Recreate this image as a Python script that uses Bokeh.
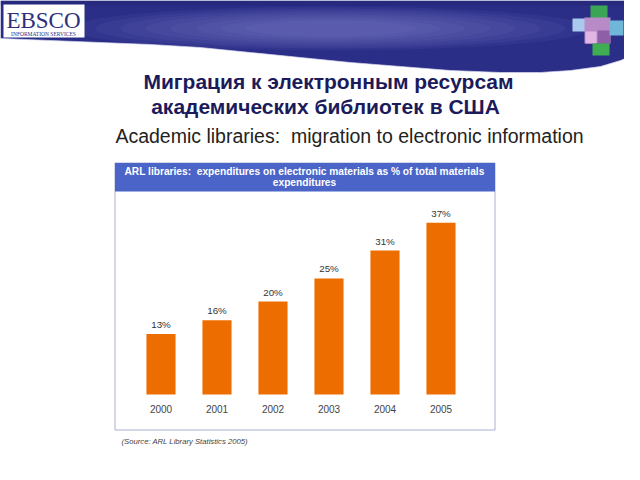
from bokeh.plotting import figure
from bokeh.models import Range1d
from bokeh.core.properties import value
from bokeh.embed import file_html
from bokeh.resources import INLINE

# ---- data ----
years = [2000, 2001, 2002, 2003, 2004, 2005]
shares = [13, 16, 20, 25, 31, 37]
share_labels = ["13%", "16%", "20%", "25%", "31%", "37%"]
year_labels = ["2000", "2001", "2002", "2003", "2004", "2005"]

title_ru_1 = "Миграция к электронным ресурсам"
title_ru_2 = "академических библиотек в США"
subtitle_en = "Academic libraries:\u00a0 migration to electronic information"
chart_head_1 = "ARL libraries:\u00a0 expenditures on electronic materials as % of total materials"
chart_head_2 = "expenditures"
source_text = "(Source: ARL Library Statistics 2005)"

FONT = value("Liberation Sans")
W, H = 624, 464

# picture coordinate system (pixels), y downward
p = figure(width=W, height=H, x_range=Range1d(0, W), y_range=Range1d(H, 0),
           output_backend="svg", toolbar_location=None,
           x_axis_location=None, y_axis_location=None, min_border=0,
           background_fill_color="white", border_fill_color="white")
p.grid.visible = False
p.outline_line_color = None

# scales for the bar chart (year -> x pixel, percent -> y pixel)
x0_px, step_px = 160.5, 56.0
base_px, px_per_pct = 394.0, 4.645
p.extra_x_ranges = {"yr": Range1d(start=2000 + (0 - x0_px) / step_px,
                                  end=2000 + (W - x0_px) / step_px)}
p.extra_y_ranges = {"pct": Range1d(start=(base_px - H) / px_per_pct,
                                   end=(base_px - 0) / px_per_pct)}

# ---- header band (decoration) ----
edge_x = [0, 50, 100, 150, 200, 250, 300, 350, 400, 450, 500, 540, 570, 600, 620, 640]
edge_y = [38, 40, 42, 44, 47, 52, 57, 62, 66, 70, 72, 72, 70, 66, 60, 52]
p.patch(x=[0] + edge_x + [640], y=[0] + edge_y + [0], fill_color="#2b2e87", line_color=None)
glow_w = [520, 470, 420, 370, 320, 270, 220, 170]
glow_h = [44, 40, 36, 32, 28, 24, 20, 16]
p.ellipse(x=[330] * len(glow_w), y=[28] * len(glow_w), width=glow_w, height=glow_h,
          fill_color="#9a9cdc", fill_alpha=0.07, line_color=None)
p.patch(x=[0, 640, 640, 0], y=[0, 0, 5, 5], fill_color="#22246f", fill_alpha=0.4, line_color=None)
p.line(x=edge_x, y=edge_y, line_color="#d8d8f0", line_width=1, line_alpha=0.7)

# EBSCO logo
p.quad(left=3, right=84, top=4, bottom=37, fill_color="white", line_color=None)
p.text(x=[43], y=[20], text=["EBSCO"], text_font=value("Liberation Serif"), text_font_size="23px",
       text_color="#2d2f7c", text_align="center", text_baseline="middle")
p.text(x=[43], y=[33], text=["INFORMATION SERVICES"], text_font=value("Liberation Serif"),
       text_font_size="5.5px", text_color="#2d2f7c", text_align="center", text_baseline="middle")

# cube icon
cx = -8
p.quad(left=[598 + cx], right=[615 + cx], top=[5], bottom=[19], fill_color="#3aa655", line_color=None)
p.quad(left=[580 + cx], right=[594 + cx], top=[18], bottom=[31], fill_color="#a9c9ee", line_color=None)
p.quad(left=[592 + cx], right=[618 + cx], top=[17], bottom=[43], fill_color="#b98ac8", line_color=None)
p.quad(left=[593 + cx], right=[604 + cx], top=[31], bottom=[43], fill_color="#e2b6e4", line_color=None)
p.quad(left=[605 + cx], right=[618 + cx], top=[30], bottom=[43], fill_color="#8e5fa6", line_color=None)
p.quad(left=[617 + cx], right=[631 + cx], top=[20], bottom=[35], fill_color="#6fb6d8", line_color=None)
p.quad(left=[600 + cx], right=[617 + cx], top=[43], bottom=[55], fill_color="#3fae52", line_color=None)

# ---- titles ----
p.text(x=[328], y=[81], text=[title_ru_1], text_font=FONT, text_font_style="bold",
       text_font_size="21px", text_color="#1b1b5c", text_align="center", text_baseline="middle")
p.text(x=[325], y=[106], text=[title_ru_2], text_font=FONT, text_font_style="bold",
       text_font_size="21px", text_color="#1b1b5c", text_align="center", text_baseline="middle")
p.text(x=[349], y=[135], text=[subtitle_en], text_font=FONT,
       text_font_size="19.5px", text_color="#222222", text_align="center", text_baseline="middle")

# ---- chart box ----
p.quad(left=114.5, right=494.5, top=162.5, bottom=429.5, fill_color="white",
       line_color="#aab0d2", line_width=1)
p.quad(left=114.5, right=494.5, top=162.5, bottom=191, fill_color="#4a64c8", line_color=None)
p.text(x=[304], y=[171], text=[chart_head_1], text_font=FONT, text_font_style="bold",
       text_font_size="10.2px", text_color="white", text_align="center", text_baseline="middle")
p.text(x=[304], y=[182], text=[chart_head_2], text_font=FONT, text_font_style="bold",
       text_font_size="10.2px", text_color="white", text_align="center", text_baseline="middle")

# bars
p.vbar(x=years, top=shares, bottom=0, width=0.52, fill_color="#ee6d00", line_color=None,
       x_range_name="yr", y_range_name="pct")
p.text(x=years, y=shares, text=share_labels, x_range_name="yr", y_range_name="pct",
       text_font=FONT, text_font_size="9.8px", text_color="#333333",
       text_align="center", text_baseline="bottom", y_offset=-4)
p.text(x=years, y=[0] * len(years), text=year_labels, x_range_name="yr", y_range_name="pct",
       text_font=FONT, text_font_size="10px", text_color="#444444",
       text_align="center", text_baseline="top", y_offset=10)

# source
p.text(x=[121], y=[441], text=[source_text], text_font=FONT, text_font_style="italic",
       text_font_size="7.7px", text_color="#444444", text_align="left", text_baseline="middle")

open("out.html", "w").write(file_html(p, INLINE))
